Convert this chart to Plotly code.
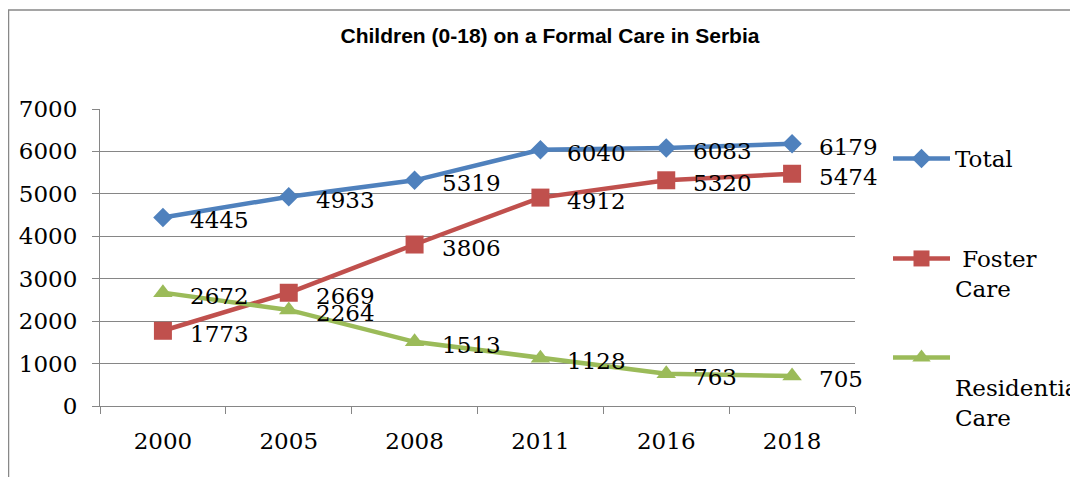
import plotly.graph_objects as go

years = ["2000", "2005", "2008", "2011", "2016", "2018"]
total = [4445, 4933, 5319, 6040, 6083, 6179]
foster = [1773, 2669, 3806, 4912, 5320, 5474]
residential = [2672, 2264, 1513, 1128, 763, 705]
y_ticks = [0, 1000, 2000, 3000, 4000, 5000, 6000, 7000]

title = "Children (0-18) on a Formal Care in Serbia"
SERIF = "DejaVu Serif"

W, H = 1070, 469
L, T, R, B = 92, 101, 223, 71
PW = W - L - R
PH = H - T - B

def py(p):
    return (T + PH - p) / PH

def px(p):
    return (p - L) / PW

series = [
    ("Total", total, "#4F81BD", "diamond", 15, "legend"),
    (" Foster<br>Care", foster, "#C0504D", "square", 18, "legend2"),
    (" <br>Residential<br>Care", residential, "#9BBB59", "triangle-up", 17, "legend3"),
]

fig = go.Figure()
annotations = []
for name, vals, color, sym, msize, leg in series:
    fig.add_trace(go.Scatter(
        x=years, y=vals, name=name, mode="lines+markers",
        line=dict(color=color, width=4.5),
        marker=dict(symbol=sym, size=msize, color=color, line=dict(width=0)),
        legend=leg,
    ))
    for i, yv in enumerate(vals):
        annotations.append(dict(
            x=i, y=yv, xref="x", yref="y", text=str(yv), showarrow=False,
            xanchor="left", yanchor="middle", xshift=25, yshift=-3,
            font=dict(family=SERIF, size=23, color="#000000"),
        ))

leg_common = dict(
    font=dict(family=SERIF, size=23, color="#000000"),
    bgcolor="rgba(0,0,0,0)", valign="top", xanchor="left", yanchor="top",
    itemclick=False, itemdoubleclick=False, itemwidth=57,
)
LX = px(880)

fig.update_layout(
    width=W, height=H,
    margin=dict(l=L, r=R, t=T, b=B, autoexpand=False),
    paper_bgcolor="white", plot_bgcolor="white",
    title=dict(
        text="<b>" + title + "</b>", x=542 / W, xanchor="center",
        y=1 - 28 / H, yanchor="middle", yref="container",
        font=dict(family="Liberation Sans", size=21, color="#000000"),
    ),
    annotations=annotations,
    showlegend=True,
    legend=dict(x=LX, y=py(129), **leg_common),
    legend2=dict(x=LX, y=py(229), **leg_common),
    legend3=dict(x=LX, y=py(328), **leg_common),
    xaxis=dict(
        type="category", range=[-0.5, 5.5], tickson="boundaries",
        ticks="outside", ticklen=7, tickcolor="#868686", tickwidth=1,
        showline=True, linecolor="#868686", linewidth=1,
        showgrid=False, zeroline=False, ticklabelstandoff=14,
        tickfont=dict(family=SERIF, size=23, color="#000000"),
    ),
    yaxis=dict(
        range=[0, 7000], tickvals=y_ticks, ticktext=[str(v) for v in y_ticks],
        ticks="outside", ticklen=7, tickcolor="#868686", tickwidth=1,
        showline=True, linecolor="#868686", linewidth=1,
        showgrid=True, gridcolor="#868686", gridwidth=1, zeroline=False,
        ticklabelstandoff=10,
        tickfont=dict(family=SERIF, size=23, color="#000000"),
    ),
    shapes=[dict(
        type="rect", xref="paper", yref="paper",
        x0=px(0.5), x1=1.6, y0=-0.5, y1=py(2),
        line=dict(color="#888888", width=1.5), fillcolor="rgba(0,0,0,0)", layer="below",
    )],
)

fig.write_html("out.html")
